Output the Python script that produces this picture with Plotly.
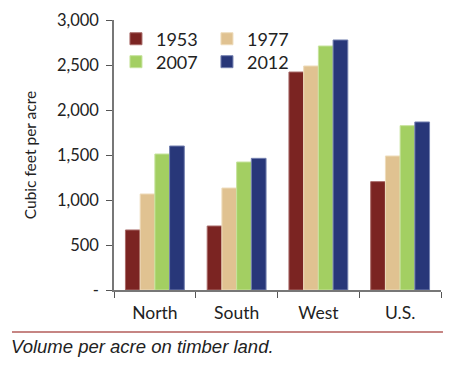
import plotly.graph_objects as go

regions = ["North", "South", "West", "U.S."]
years = ["1953", "1977", "2007", "2012"]
v1953 = [667, 711, 2422, 1204]
v1977 = [1067, 1133, 2489, 1489]
v2007 = [1511, 1422, 2711, 1826]
v2012 = [1600, 1463, 2778, 1867]
tick_vals = [0, 500, 1000, 1500, 2000, 2500, 3000]
tick_text = ["-", "500", "1,000", "1,500", "2,000", "2,500", "3,000"]

series = [v1953, v1977, v2007, v2012]
colors = ["#7b2422", "#e0c291", "#a3cf62", "#283779"]
edges = ["#a86a68", "#eedcbc", "#c6e39c", "#7480b0"]
legends = ["legend", "legend", "legend2", "legend2"]

fig = go.Figure()
for yr, vals, c, e, lg in zip(years, series, colors, edges, legends):
    fig.add_trace(go.Bar(x=regions, y=vals, name=yr, marker_color=c,
                         marker_line=dict(color=e, width=1), legend=lg))

font = "Lato, 'Open Sans', sans-serif"
# page body has an 8px margin, so figure is shrunk by 8px and offsets reduced
fig.update_layout(
    width=457, height=360,
    margin=dict(l=106, r=24, t=12, b=78),
    plot_bgcolor="white", paper_bgcolor="white",
    barmode="group", bargap=0.28, bargroupgap=0,
    font=dict(family=font, size=15, color="#222222"),
    showlegend=True,
    legend=dict(orientation="h", x=0.006, y=0.998, xanchor="left", yanchor="top",
                entrywidth=46, font=dict(size=18), bgcolor="rgba(0,0,0,0)",
                itemwidth=30, tracegroupgap=0),
    legend2=dict(orientation="h", x=0.006, y=0.913, xanchor="left", yanchor="top",
                 entrywidth=46, font=dict(size=18), bgcolor="rgba(0,0,0,0)",
                 itemwidth=30, tracegroupgap=0),
    xaxis=dict(showline=True, linecolor="#777777", linewidth=2, automargin=False,
               ticks="outside", tickson="boundaries", ticklen=6,
               tickcolor="#555555", tickwidth=1, showgrid=False,
               ticklabelstandoff=6, tickfont=dict(size=17.5)),
    yaxis=dict(range=[0, 3000], tickvals=tick_vals, ticktext=tick_text, automargin=False,
               showline=True, linecolor="#777777", linewidth=1.5,
               ticks="outside", ticklen=6, tickcolor="#555555", tickwidth=1,
               showgrid=False, zeroline=False, tickfont=dict(size=16.5),
               ticklabelstandoff=4,
               title=dict(text="Cubic feet per acre", font=dict(size=15.5), standoff=16)),
    shapes=[dict(type="line", xref="paper", yref="paper",
                 x0=-0.312, x1=1.006, y0=-0.1556, y1=-0.1556,
                 line=dict(color="#b35c5a", width=1.5))],
    annotations=[dict(text="<i>Volume per acre on timber land.</i>", xref="paper", yref="paper",
                      x=-0.321, y=-0.21, xanchor="left", yanchor="middle", showarrow=False,
                      font=dict(family="Liberation Sans, Arial, sans-serif", size=18.5, color="#222222"))],
)

fig.write_html("out.html")
